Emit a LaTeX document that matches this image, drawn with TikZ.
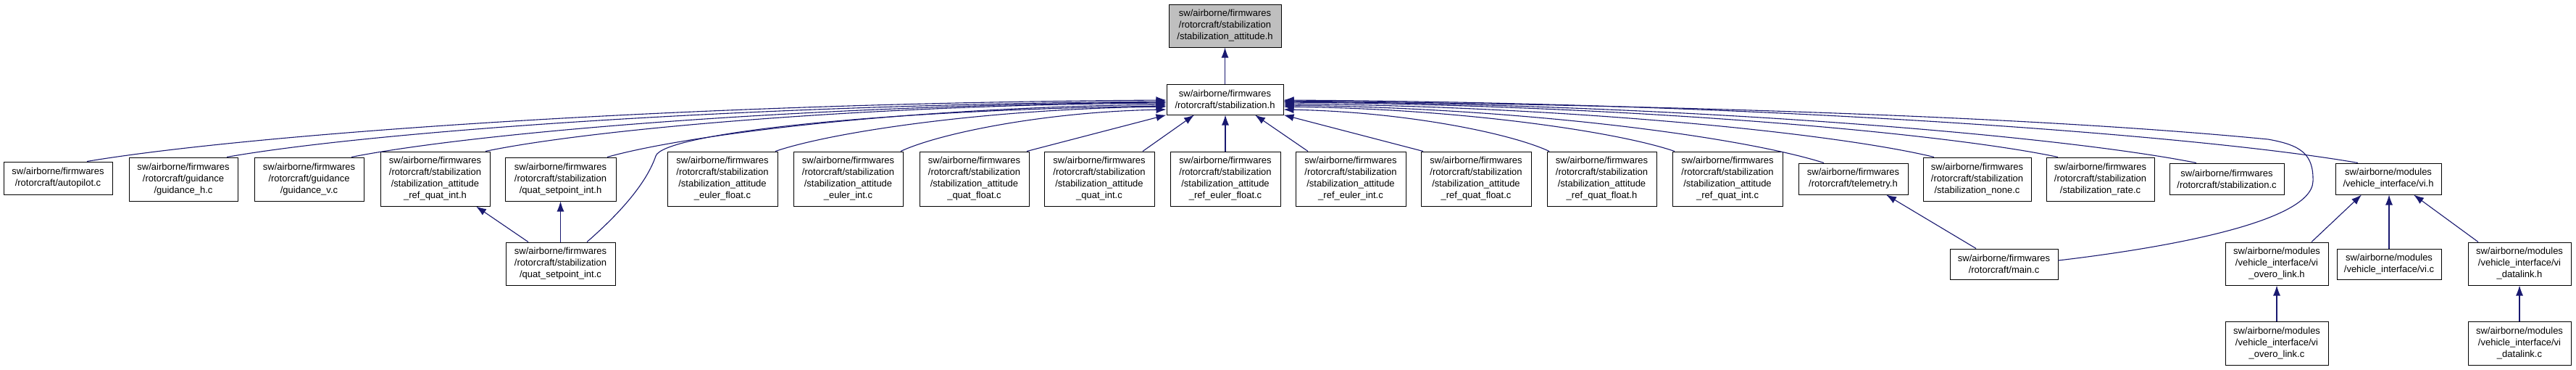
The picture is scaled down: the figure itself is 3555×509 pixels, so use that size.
\documentclass[tikz,border=0pt]{standalone}
\usepackage{fontspec}
\setmainfont{Liberation Sans}
\usetikzlibrary{arrows.meta,calc}
\definecolor{navy}{RGB}{25,25,112}
\definecolor{topgray}{RGB}{191,191,191}
\begin{document}
\begin{tikzpicture}[x=1pt,y=-1pt,
 box/.style={draw=black, fill=white, line width=1pt, inner sep=0pt, align=center, font=\fontsize{13}{16}\selectfont},
 edge/.style={draw=navy, line width=1.1pt, -{Latex[length=14pt,width=10pt]}}]
\fill[white] (0,0) rectangle (3555,509);
\useasboundingbox (0,0) rectangle (3555,509);
% top
\node[box, fill=topgray, minimum width=155pt, minimum height=59pt] (top) at (1690.5,35.5) {sw/airborne/firmwares\\/rotorcraft/stabilization\\/stabilization\_attitude.h};
\node[box, minimum width=161pt, minimum height=42pt] (stabh) at (1690.5,137) {sw/airborne/firmwares\\/rotorcraft/stabilization.h};
% row 2
\node[box, minimum width=150pt, minimum height=45pt] (autopilot) at (80,245.5) {sw/airborne/firmwares\\/rotorcraft/autopilot.c};
\node[box, minimum width=150pt, minimum height=60pt] (guih) at (253,247) {sw/airborne/firmwares\\/rotorcraft/guidance\\/guidance\_h.c};
\node[box, minimum width=151pt, minimum height=60pt] (guiv) at (426.5,247) {sw/airborne/firmwares\\/rotorcraft/guidance\\/guidance\_v.c};
\node[box, minimum width=151pt, minimum height=75pt] (rqih) at (600.5,246.5) {sw/airborne/firmwares\\/rotorcraft/stabilization\\/stabilization\_attitude\\\_ref\_quat\_int.h};
\node[box, minimum width=153pt, minimum height=60pt] (qsih) at (773.5,247) {sw/airborne/firmwares\\/rotorcraft/stabilization\\/quat\_setpoint\_int.h};
\node[box, minimum width=152pt, minimum height=75pt] (ef) at (997,246.5) {sw/airborne/firmwares\\/rotorcraft/stabilization\\/stabilization\_attitude\\\_euler\_float.c};
\node[box, minimum width=151pt, minimum height=75pt] (ei) at (1170.5,246.5) {sw/airborne/firmwares\\/rotorcraft/stabilization\\/stabilization\_attitude\\\_euler\_int.c};
\node[box, minimum width=151pt, minimum height=75pt] (qf) at (1344.5,246.5) {sw/airborne/firmwares\\/rotorcraft/stabilization\\/stabilization\_attitude\\\_quat\_float.c};
\node[box, minimum width=152pt, minimum height=75pt] (qi) at (1517,246.5) {sw/airborne/firmwares\\/rotorcraft/stabilization\\/stabilization\_attitude\\\_quat\_int.c};
\node[box, minimum width=152pt, minimum height=75pt] (ref) at (1691,246.5) {sw/airborne/firmwares\\/rotorcraft/stabilization\\/stabilization\_attitude\\\_ref\_euler\_float.c};
\node[box, minimum width=152pt, minimum height=75pt] (rei) at (1864,246.5) {sw/airborne/firmwares\\/rotorcraft/stabilization\\/stabilization\_attitude\\\_ref\_euler\_int.c};
\node[box, minimum width=152pt, minimum height=75pt] (rqfc) at (2037,246.5) {sw/airborne/firmwares\\/rotorcraft/stabilization\\/stabilization\_attitude\\\_ref\_quat\_float.c};
\node[box, minimum width=151pt, minimum height=75pt] (rqfh) at (2210.5,246.5) {sw/airborne/firmwares\\/rotorcraft/stabilization\\/stabilization\_attitude\\\_ref\_quat\_float.h};
\node[box, minimum width=152pt, minimum height=75pt] (rqic) at (2384,246.5) {sw/airborne/firmwares\\/rotorcraft/stabilization\\/stabilization\_attitude\\\_ref\_quat\_int.c};
\node[box, minimum width=151pt, minimum height=43pt] (tel) at (2557.5,246.5) {sw/airborne/firmwares\\/rotorcraft/telemetry.h};
\node[box, minimum width=149pt, minimum height=60pt] (none) at (2728.5,247) {sw/airborne/firmwares\\/rotorcraft/stabilization\\/stabilization\_none.c};
\node[box, minimum width=149pt, minimum height=60pt] (rate) at (2898.5,247) {sw/airborne/firmwares\\/rotorcraft/stabilization\\/stabilization\_rate.c};
\node[box, minimum width=158pt, minimum height=43pt] (stabc) at (3073,246.5) {sw/airborne/firmwares\\/rotorcraft/stabilization.c};
\node[box, minimum width=146pt, minimum height=43pt] (vih) at (3296,246.5) {sw/airborne/modules\\/vehicle\_interface/vi.h};
% row 3
\node[box, minimum width=151pt, minimum height=59pt] (qsc) at (773.5,363.5) {sw/airborne/firmwares\\/rotorcraft/stabilization\\/quat\_setpoint\_int.c};
\node[box, minimum width=149pt, minimum height=42pt] (mainc) at (2765.5,364) {sw/airborne/firmwares\\/rotorcraft/main.c};
\node[box, minimum width=142pt, minimum height=59pt] (violh) at (3142,363.5) {sw/airborne/modules\\/vehicle\_interface/vi\\\_overo\_link.h};
\node[box, minimum width=144pt, minimum height=42pt] (vic) at (3297,364) {sw/airborne/modules\\/vehicle\_interface/vi.c};
\node[box, minimum width=142pt, minimum height=59pt] (vidh) at (3477,363.5) {sw/airborne/modules\\/vehicle\_interface/vi\\\_datalink.h};
% row 4
\node[box, minimum width=142pt, minimum height=60pt] (violc) at (3142,473) {sw/airborne/modules\\/vehicle\_interface/vi\\\_overo\_link.c};
\node[box, minimum width=142pt, minimum height=60pt] (vidc) at (3477,473) {sw/airborne/modules\\/vehicle\_interface/vi\\\_datalink.c};
% edges
\draw[edge] (stabh.north) -- (top.south);
\draw[edge] ($(autopilot.north)+(40,0)$) .. controls (344,185) and (940,142) .. ($(stabh.west)+(0,1)$);
\draw[edge] ($(guih.north)+(60,0)$) .. controls (508,182) and (1026,144) .. ($(stabh.west)+(0,3)$);
\draw[edge] ($(guiv.north)+(58.5,0)$) .. controls (654,183) and (1104,145) .. ($(stabh.west)+(0,4)$);
\draw[edge] ($(rqih.north)+(69.5,0)$) .. controls (811,179) and (1187,145) .. ($(stabh.west)+(0,5)$);
\draw[edge] ($(qsih.north)+(64.5,0)$) .. controls (954,184) and (1263,148) .. ($(stabh.west)+(0,7)$);
\draw[edge] ($(qsc.north)+(36.5,0)$) .. controls (860,290) and (893,250) .. (905,215) .. controls (915,185) and (1200,152) .. ($(stabh.west)+(0,9)$);
\draw[edge] ($(ef.north)+(73,0)$) .. controls (1151,181) and (1367,150) .. ($(stabh.west)+(0,10)$);
\draw[edge] ($(ei.north)+(72.5,0)$) .. controls (1298,183) and (1445,154) .. ($(stabh.west)+(0,14)$);
\draw[edge] ($(qf.north)+(72.5,0)$) -- (stabh.south west);
\draw[edge] ($(qi.north)+(60,0)$) -- ($(stabh.south)+(-42.5,0)$);
\draw[edge] (ref.north) -- (ref.north |- stabh.south);
\draw[edge] ($(rei.north)+(-59,0)$) -- ($(stabh.south)+(41.5,0)$);
\draw[edge] ($(rqfc.north)+(-73,0)$) -- (stabh.south east);
\draw[edge] ($(rqfh.north)+(-72.5,0)$) .. controls (2083,183) and (1936,154) .. ($(stabh.east)+(0,14)$);
\draw[edge] ($(rqic.north)+(-73,0)$) .. controls (2230,181) and (2014,150) .. ($(stabh.east)+(0,10)$);
\draw[edge] ($(tel.north)+(-40.5,0)$) .. controls (2405,189) and (2107,149) .. ($(stabh.east)+(0,8)$);
\draw[edge] ($(none.north)+(-59.5,0)$) .. controls (2534,184) and (2175,147) .. ($(stabh.east)+(0,6)$);
\draw[edge] ($(rate.north)+(-58.5,0)$) .. controls (2680,183) and (2252,145) .. ($(stabh.east)+(0,4)$);
\draw[edge] ($(stabc.north)+(-42,0)$) .. controls (2842,187) and (2338,144) .. ($(stabh.east)+(0,3)$);
\draw[edge] ($(mainc.east)+(0,-5)$) .. controls (2960,345) and (3190,310) .. (3192,250) .. controls (3193,212) and (3175,200) .. (3130,192) .. controls (2800,160) and (2300,145) .. ($(stabh.east)+(0,2)$);
\draw[edge] ($(vih.north)+(-42,0)$) .. controls (3032,186) and (2438,142) .. ($(stabh.east)+(0,1)$);
\draw[edge] ($(qsc.north)+(-44.5,0)$) -- ($(rqih.south)+(56.5,0)$);
\draw[edge] (qsc.north) -- (qsih.south);
\draw[edge] ($(mainc.north)+(-38.5,0)$) -- ($(tel.south)+(45.5,0)$);
\draw[edge] ($(violh.north)+(48,0)$) -- ($(vih.south)+(-37,0)$);
\draw[edge] (vic.north) -- (vic.north |- vih.south);
\draw[edge] ($(vidh.north)+(-57,0)$) -- ($(vih.south)+(35,0)$);
\draw[edge] (violc.north) -- (violh.south);
\draw[edge] (vidc.north) -- (vidh.south);
\end{tikzpicture}
\end{document}
